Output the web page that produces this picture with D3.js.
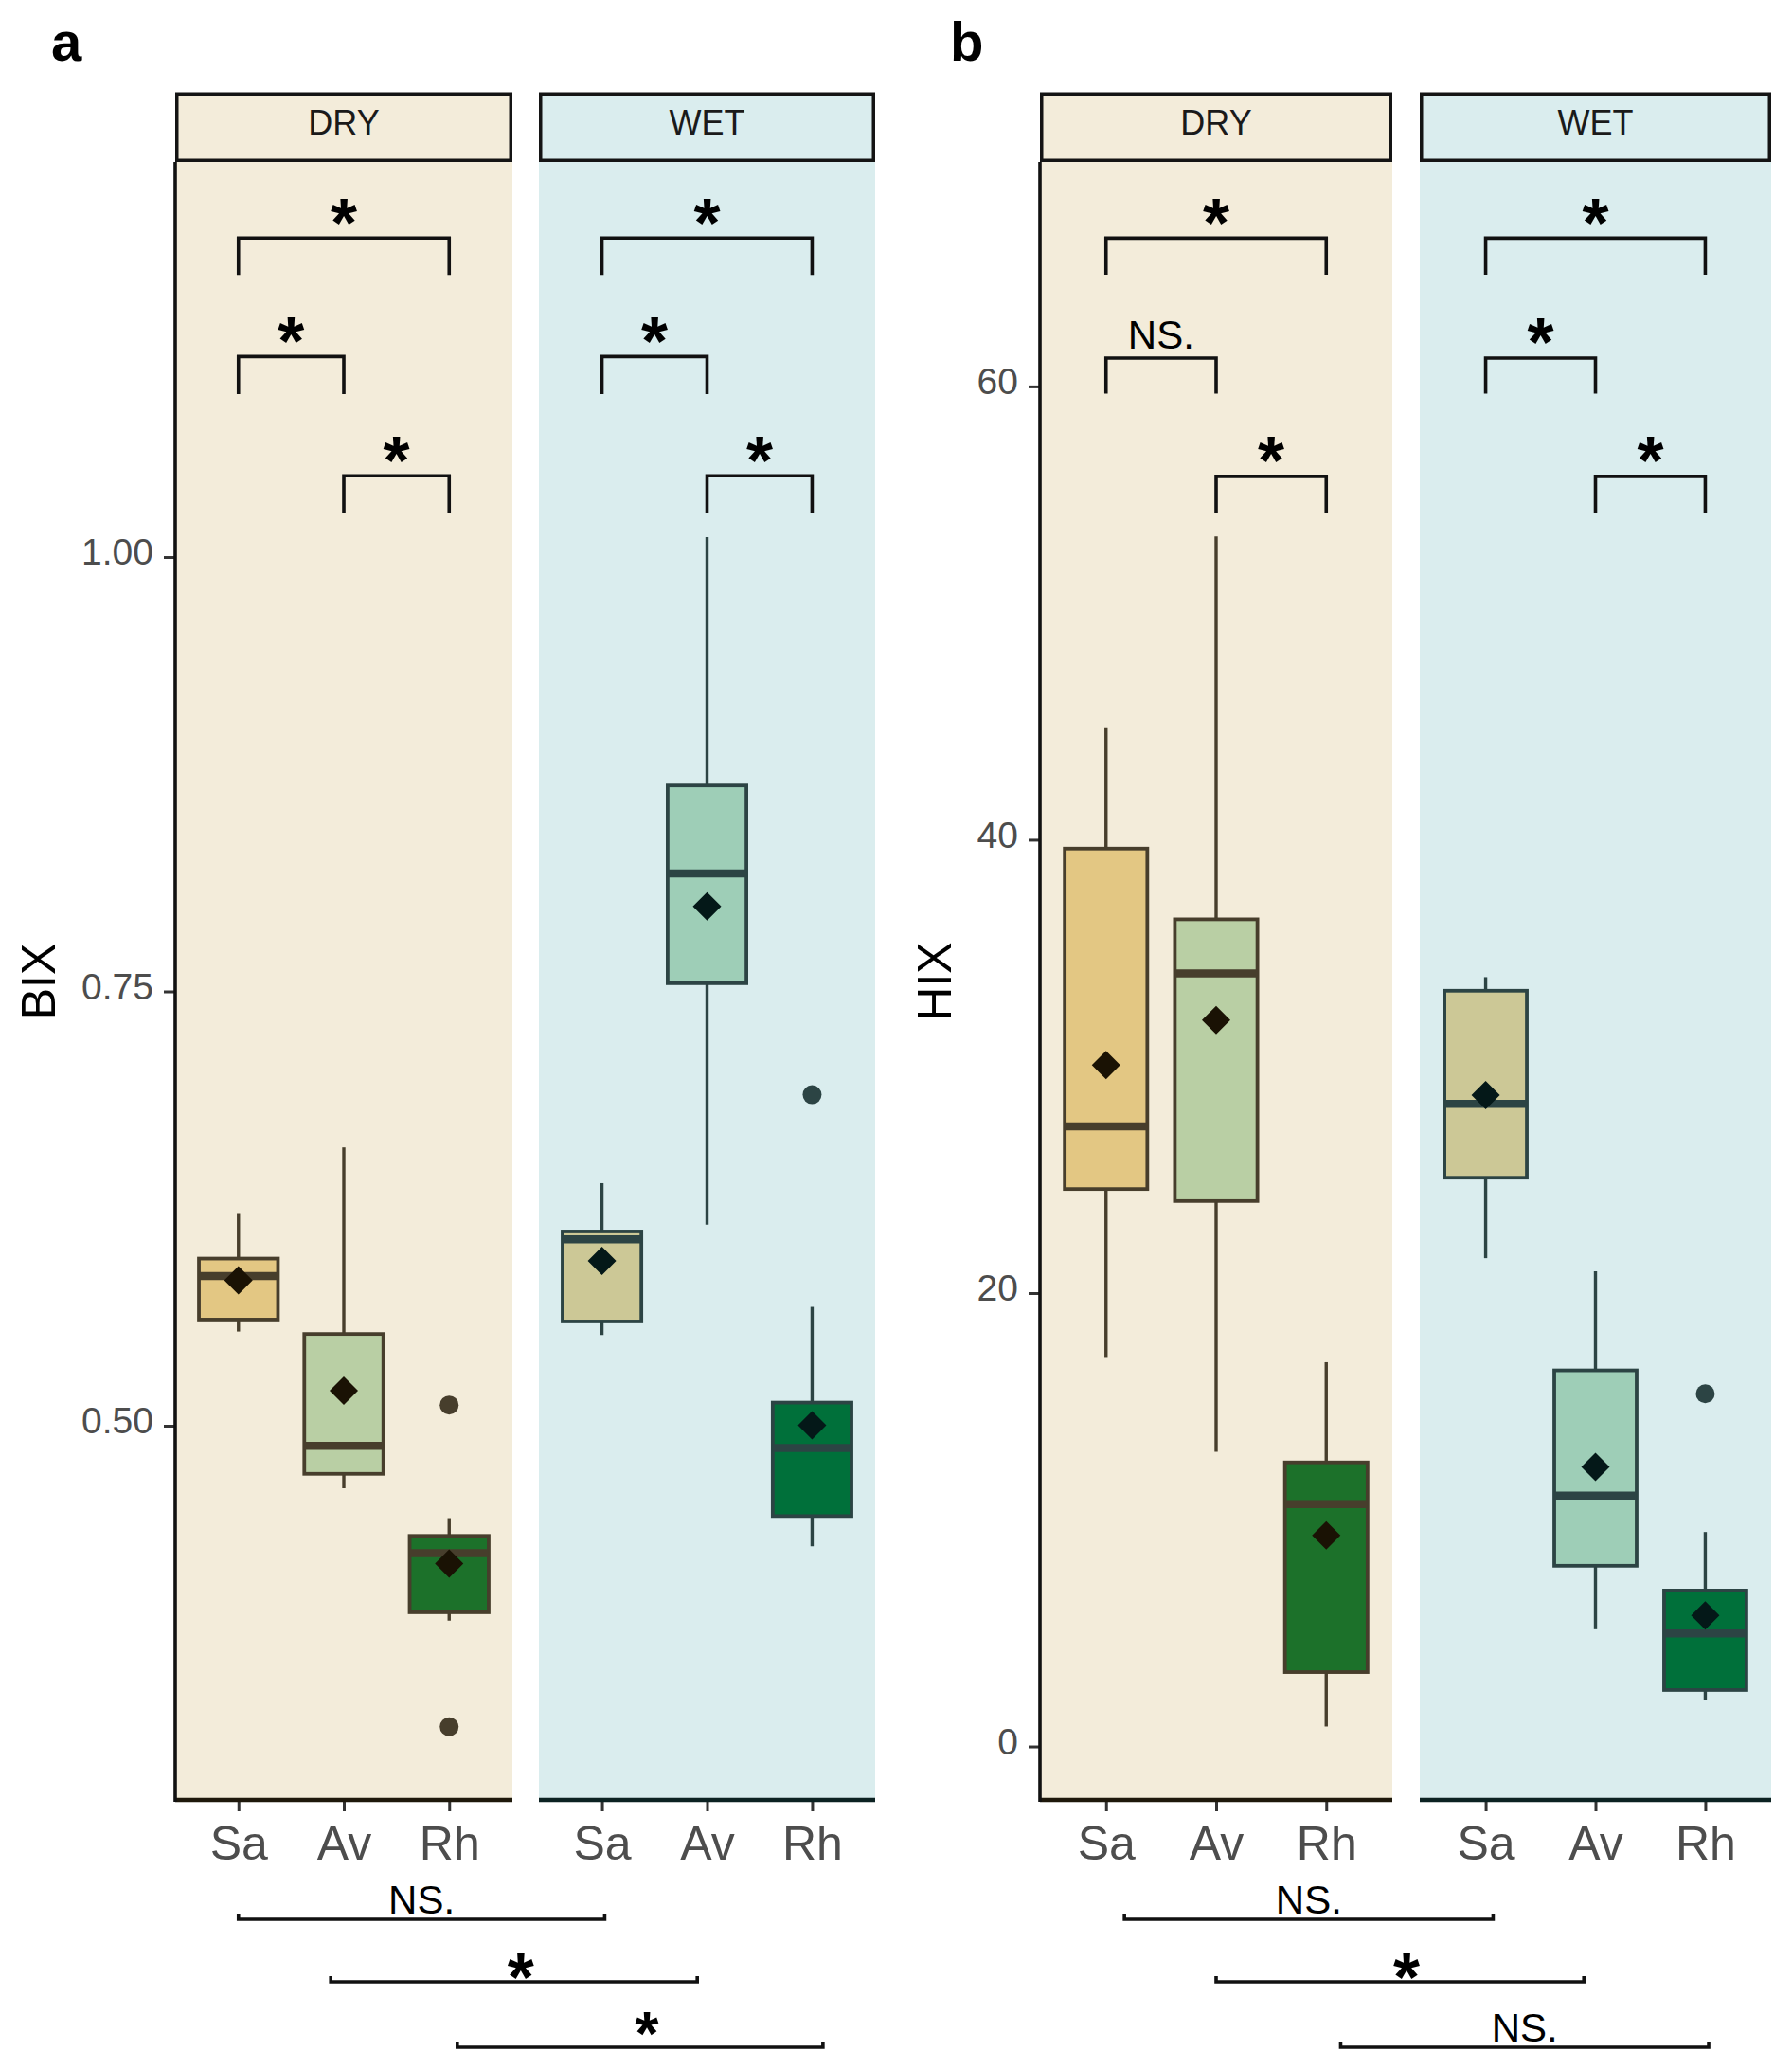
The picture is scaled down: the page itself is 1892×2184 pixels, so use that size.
<!DOCTYPE html>
<html><head><meta charset="utf-8">
<script src="https://cdn.jsdelivr.net/npm/d3@7/dist/d3.min.js"></script>
<style>body{margin:0;background:#fff}svg text{font-family:"Liberation Sans",Arial,Helvetica,sans-serif}</style>
</head><body><svg id="c" width="1892" height="2184"></svg>
<script>
// ---------------- data ----------------
const categories = ["Sa", "Av", "Rh"];
const seasons = ["DRY", "WET"];

// box statistics: lower whisker, Q1, median, Q3, upper whisker, mean
const bixStats = [
  {season:"DRY", cat:"Sa", lo:0.5542, q1:0.5611, med:0.5862, q3:0.5962, hi:0.6224, mean:0.5837},
  {season:"DRY", cat:"Av", lo:0.4640, q1:0.4723, med:0.4884, q3:0.5528, hi:0.6602, mean:0.5202},
  {season:"DRY", cat:"Rh", lo:0.3878, q1:0.3926, med:0.4266, q3:0.4366, hi:0.4468, mean:0.4207},
  {season:"WET", cat:"Sa", lo:0.5522, q1:0.5600, med:0.6073, q3:0.6118, hi:0.6396, mean:0.5948},
  {season:"WET", cat:"Av", lo:0.6157, q1:0.7547, med:0.8179, q3:0.8685, hi:1.0115, mean:0.7990},
  {season:"WET", cat:"Rh", lo:0.4306, q1:0.4480, med:0.4872, q3:0.5133, hi:0.5684, mean:0.5003}
];
const bixOutliers = [
  {season:"DRY", cat:"Rh", v:0.5119},
  {season:"DRY", cat:"Rh", v:0.3267},
  {season:"WET", cat:"Rh", v:0.6905}
];
const hixStats = [
  {season:"DRY", cat:"Sa", lo:17.18, q1:24.59, med:27.36, q3:39.61, hi:44.96, mean:30.06},
  {season:"DRY", cat:"Av", lo:13.00, q1:24.06, med:34.10, q3:36.49, hi:53.38, mean:32.05},
  {season:"DRY", cat:"Rh", lo:0.88,  q1:3.28,  med:10.69, q3:12.53, hi:16.95, mean:9.31},
  {season:"WET", cat:"Sa", lo:21.54, q1:25.09, med:28.35, q3:33.34, hi:33.94, mean:28.73},
  {season:"WET", cat:"Av", lo:5.17,  q1:7.97,  med:11.07, q3:16.59, hi:20.96, mean:12.33},
  {season:"WET", cat:"Rh", lo:2.06,  q1:2.49,  med:4.99,  q3:6.88,  hi:9.46,  mean:5.78}
];
const hixOutliers = [
  {season:"WET", cat:"Rh", v:15.56}
];

const bixTicks = [0.50, 0.75, 1.00];
const hixTicks = [0, 20, 40, 60];
const bixDomain = [0.2846, 1.2274];
const hixDomain = [-2.36, 69.9];

// within-season significance brackets (bar value, tip value)
const bixBrackets = [
  {season:"DRY", from:"Sa", to:"Rh", y:1.1836, tip:1.1624, label:"*"},
  {season:"DRY", from:"Sa", to:"Av", y:1.1154, tip:1.0938, label:"*"},
  {season:"DRY", from:"Av", to:"Rh", y:1.0468, tip:1.0254, label:"*"},
  {season:"WET", from:"Sa", to:"Rh", y:1.1836, tip:1.1624, label:"*"},
  {season:"WET", from:"Sa", to:"Av", y:1.1154, tip:1.0938, label:"*"},
  {season:"WET", from:"Av", to:"Rh", y:1.0468, tip:1.0254, label:"*"}
];
const hixBrackets = [
  {season:"DRY", from:"Sa", to:"Rh", y:66.54, tip:64.93, label:"*"},
  {season:"DRY", from:"Sa", to:"Av", y:61.25, tip:59.68, label:"NS."},
  {season:"DRY", from:"Av", to:"Rh", y:56.03, tip:54.41, label:"*"},
  {season:"WET", from:"Sa", to:"Rh", y:66.54, tip:64.93, label:"*"},
  {season:"WET", from:"Sa", to:"Av", y:61.25, tip:59.68, label:"*"},
  {season:"WET", from:"Av", to:"Rh", y:56.03, tip:54.41, label:"*"}
];
// between-season comparisons (same category DRY vs WET), offsets in category steps
const bixCross = [
  {cat:"Sa", label:"NS.", offDry:0.00,  offWet:0.026},
  {cat:"Av", label:"*",   offDry:-0.124, offWet:-0.093},
  {cat:"Rh", label:"*",   offDry:0.077, offWet:0.103}
];
const hixCross = [
  {cat:"Sa", label:"NS.", offDry:0.167, offWet:0.068},
  {cat:"Av", label:"*",   offDry:0.00,  offWet:-0.106},
  {cat:"Rh", label:"NS.", offDry:0.131, offWet:0.031}
];

// ---------------- style ----------------
const bg = {DRY:"#F3ECDA", WET:"#DAEDEE"};
const fills = {DRY:{Sa:"#E3C783", Av:"#B9CFA4", Rh:"#1C712A"},
               WET:{Sa:"#CCC896", Av:"#9ECEB7", Rh:"#00703A"}};
const edge = {DRY:"#473E2C", WET:"#2C4444"};
const meanCol = {DRY:"#1A1204", WET:"#041818"};
const axisCol = {DRY:"#1E180B", WET:"#0C2222"};

const W = 1892, H = 2184;
const TOP = 171, BOTTOM = 1900, STRIP_TOP = 97.5;
const crossRows = [2026, 2092, 2161];
const STAR_F = 72;
const CROSS_LABEL_SHIFT = 7;

const panels = [
  {letter:"a", title:"BIX", stats:bixStats, outliers:bixOutliers, brackets:bixBrackets, cross:bixCross,
   ticks:bixTicks, fmt:d3.format(".2f"), domain:bixDomain,
   ranges:{DRY:[185,541], WET:[569,924]}, titleX:58, letterX:54},
  {letter:"b", title:"HIX", stats:hixStats, outliers:hixOutliers, brackets:hixBrackets, cross:hixCross,
   ticks:hixTicks, fmt:d3.format("d"), domain:hixDomain,
   ranges:{DRY:[1098,1470], WET:[1499,1870]}, titleX:1004, letterX:1003}
];

const svg = d3.select("#c");

// label above a bar: star centred `gap` px above the bar, or text sitting on it
function barLabel(x, lineY, label, starGap, textGap) {
  if (label === "*") {
    let F = STAR_F;
    let base = lineY - starGap + 0.56 * F;
    // keep the text box inside the picture
    if (base + 0.215 * F > H - 1) { F = 64; base = Math.min(lineY - starGap + 0.56 * F, H - 1 - 0.215 * F); }
    svg.append("text").attr("x", x).attr("y", base)
      .attr("text-anchor", "middle").attr("font-size", F).attr("font-weight", "bold")
      .attr("fill", "#000").text(label);
  } else {
    svg.append("text").attr("x", x).attr("y", lineY - textGap)
      .attr("text-anchor", "middle").attr("font-size", 42).attr("fill", "#000").text(label);
  }
}

panels.forEach(p => {
  const y = d3.scaleLinear().domain(p.domain).range([BOTTOM, TOP]);
  const xs = {};
  seasons.forEach(s => {
    xs[s] = d3.scalePoint().domain(categories).range(p.ranges[s]).padding(0.6);
  });

  // panel letter
  svg.append("text").attr("x", p.letterX).attr("y", 64)
    .attr("font-size", 58).attr("font-weight", "bold").attr("fill", "#000").text(p.letter);

  // axis title
  svg.append("text").attr("transform", `translate(${p.titleX},1036) rotate(-90)`)
    .attr("text-anchor", "middle").attr("font-size", 50).attr("fill", "#000").text(p.title);

  seasons.forEach(s => {
    const x = xs[s];
    const [x0, x1] = p.ranges[s];
    const step = x.step();
    const bw = 0.75 * step;
    const g = svg.append("g");

    // panel background
    g.append("rect").attr("x", x0).attr("y", TOP).attr("width", x1 - x0).attr("height", BOTTOM - TOP)
      .attr("fill", bg[s]);
    // strip
    g.append("rect").attr("x", x0 + 1.75).attr("y", STRIP_TOP + 1.75)
      .attr("width", x1 - x0 - 3.5).attr("height", TOP - STRIP_TOP - 3.5)
      .attr("fill", bg[s]).attr("stroke", "#141414").attr("stroke-width", 3.5);
    g.append("text").attr("x", (x0 + x1) / 2).attr("y", 142).attr("text-anchor", "middle")
      .attr("font-size", 36).attr("fill", "#1a1a1a").text(s);

    // boxes
    p.stats.filter(d => d.season === s).forEach(d => {
      const cx = x(d.cat);
      const bg2 = g.append("g");
      bg2.append("line").attr("x1", cx).attr("x2", cx).attr("y1", y(d.hi)).attr("y2", y(d.q3))
        .attr("stroke", edge[s]).attr("stroke-width", 3.4);
      bg2.append("line").attr("x1", cx).attr("x2", cx).attr("y1", y(d.q1)).attr("y2", y(d.lo))
        .attr("stroke", edge[s]).attr("stroke-width", 3.4);
      bg2.append("rect").attr("x", cx - bw / 2).attr("y", y(d.q3)).attr("width", bw)
        .attr("height", y(d.q1) - y(d.q3)).attr("fill", fills[s][d.cat])
        .attr("stroke", edge[s]).attr("stroke-width", 3.8);
      bg2.append("line").attr("x1", cx - bw / 2).attr("x2", cx + bw / 2)
        .attr("y1", y(d.med)).attr("y2", y(d.med)).attr("stroke", edge[s]).attr("stroke-width", 8.5);
    });
    // outliers
    p.outliers.filter(d => d.season === s).forEach(d => {
      g.append("circle").attr("cx", x(d.cat)).attr("cy", y(d.v)).attr("r", 10).attr("fill", edge[s]);
    });
    // means
    p.stats.filter(d => d.season === s).forEach(d => {
      g.append("path").attr("d", d3.symbol(d3.symbolSquare, 450)())
        .attr("transform", `translate(${x(d.cat)},${y(d.mean)}) rotate(45)`)
        .attr("fill", meanCol[s]);
    });

    // brackets
    p.brackets.filter(d => d.season === s).forEach(d => {
      const xa = x(d.from), xb = x(d.to);
      g.append("path")
        .attr("d", `M${xa},${y(d.tip)}V${y(d.y)}H${xb}V${y(d.tip)}`)
        .attr("fill", "none").attr("stroke", "#111").attr("stroke-width", 3.6);
      barLabel((xa + xb) / 2, y(d.y), d.label, 32, 10);
    });

    // x axis
    const xa = g.append("g").attr("transform", `translate(0,${BOTTOM})`)
      .call(d3.axisBottom(x).tickSize(12).tickPadding(15));
    xa.select(".domain").remove();
    xa.selectAll(".tick line").attr("stroke", "#333").attr("stroke-width", 3);
    xa.selectAll(".tick text").attr("font-size", 50).attr("fill", "#4D4D4D")
      .attr("font-family", '"Liberation Sans",Arial,sans-serif');
    g.append("line").attr("x1", x0).attr("x2", x1).attr("y1", BOTTOM).attr("y2", BOTTOM)
      .attr("stroke", axisCol[s]).attr("stroke-width", 4.5);
  });

  // y axis
  const x0 = p.ranges.DRY[0];
  const ya = svg.append("g").attr("transform", `translate(${x0},0)`)
    .call(d3.axisLeft(y).tickValues(p.ticks).tickFormat(p.fmt).tickSize(12).tickPadding(11));
  ya.select(".domain").remove();
  ya.selectAll(".tick line").attr("stroke", "#333").attr("stroke-width", 3);
  ya.selectAll(".tick text").attr("font-size", 39).attr("fill", "#4D4D4D").attr("dy", "0.2em")
    .attr("font-family", '"Liberation Sans",Arial,sans-serif');
  svg.append("line").attr("x1", x0).attr("x2", x0).attr("y1", TOP).attr("y2", BOTTOM + 2)
    .attr("stroke", "#111").attr("stroke-width", 3.6);

  // between-season comparison bars below the axis
  p.cross.forEach((d, i) => {
    const xd = xs.DRY(d.cat) + d.offDry * xs.DRY.step();
    const xw = xs.WET(d.cat) + d.offWet * xs.WET.step();
    const ry = crossRows[i];
    svg.append("path").attr("d", `M${xd},${ry - 6}V${ry}H${xw}V${ry - 6}`)
      .attr("fill", "none").attr("stroke", "#111").attr("stroke-width", 3.6);
    barLabel((xd + xw) / 2 + (d.label === "*" ? CROSS_LABEL_SHIFT : 0), ry, d.label, 20, 6);
  });
});
</script></body></html>
